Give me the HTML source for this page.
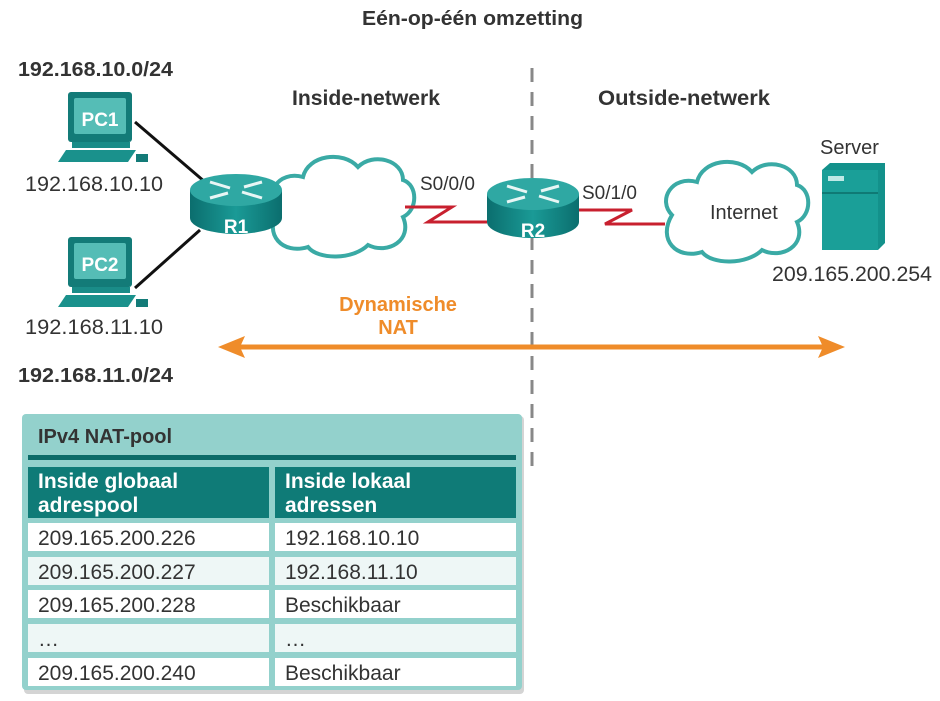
<!DOCTYPE html>
<html><head><meta charset="utf-8"><style>
body{margin:0;background:#fff;}
svg{display:block;font-family:"Liberation Sans",Arial,sans-serif;}
</style></head><body>
<svg width="940" height="701" viewBox="0 0 940 701" xmlns="http://www.w3.org/2000/svg">
<defs>
<linearGradient id="rg" x1="0" y1="0" x2="1" y2="0">
<stop offset="0" stop-color="#0b6e6e"/><stop offset="0.5" stop-color="#1a9a96"/><stop offset="1" stop-color="#0b6e6e"/>
</linearGradient>
<g id="router">
<path d="M-46,0 v28 a46,16 0 0 0 92,0 v-28 z" fill="url(#rg)"/>
<ellipse cx="0" cy="0" rx="46" ry="16" fill="#2fa8a3"/>
<g stroke="#e8f6f5" stroke-width="3" fill="#e8f6f5">
<line x1="-26" y1="-8" x2="-6" y2="-2"/><line x1="26" y1="8" x2="6" y2="2"/>
<line x1="-26" y1="8" x2="-8" y2="3"/><line x1="26" y1="-8" x2="8" y2="-3"/>
</g>
</g>
<g id="pc">
<rect x="14" y="0" width="64" height="50" rx="3" fill="#137b78"/>
<rect x="20" y="6" width="52" height="36" rx="2" fill="#55bdb6"/>
<rect x="18" y="50" width="58" height="6" fill="#1a8c88"/>
<path d="M4,70 L12,58 L82,58 L74,70 z" fill="#1a918c"/>
<rect x="82" y="62" width="12" height="8" fill="#137b78"/>
</g>
<g id="cloud">
<path d="M10,55 C-5,40 10,15 35,22 C40,0 75,-5 90,12 C105,-3 135,5 135,25 C150,30 150,55 135,62 C145,85 120,100 100,90 C85,105 50,105 40,92 C15,100 -5,80 10,55 z" fill="#fff" stroke="#3aaaa5" stroke-width="4"/>
</g>
</defs>

<text x="362" y="25" font-size="20" font-weight="bold" fill="#333" textLength="221" lengthAdjust="spacingAndGlyphs">Eén-op-één omzetting</text>
<text x="18" y="76" font-size="20" font-weight="bold" fill="#333" textLength="155" lengthAdjust="spacingAndGlyphs">192.168.10.0/24</text>
<text x="18" y="382" font-size="20" font-weight="bold" fill="#333" textLength="155" lengthAdjust="spacingAndGlyphs">192.168.11.0/24</text>
<text x="292" y="105" font-size="21" font-weight="bold" fill="#333" textLength="148" lengthAdjust="spacingAndGlyphs">Inside-netwerk</text>
<text x="598" y="105" font-size="21" font-weight="bold" fill="#333" textLength="172" lengthAdjust="spacingAndGlyphs">Outside-netwerk</text>

<line x1="532" y1="68" x2="532" y2="472" stroke="#888" stroke-width="3" stroke-dasharray="14,10"/>

<line x1="135" y1="122" x2="205" y2="182" stroke="#111" stroke-width="3"/>
<line x1="135" y1="288" x2="200" y2="230" stroke="#111" stroke-width="3"/>

<use href="#cloud" x="268" y="155"/>
<use href="#cloud" x="662" y="160"/>
<text x="710" y="219" font-size="20" fill="#333">Internet</text>

<polyline points="405,207 452,207 428,222 487,222" fill="none" stroke="#c8202f" stroke-width="3"/>
<polyline points="578,210 632,210 605,224 665,224" fill="none" stroke="#c8202f" stroke-width="3"/>
<text x="420" y="190" font-size="19" fill="#333">S0/0/0</text>
<text x="582" y="199" font-size="19" fill="#333">S0/1/0</text>

<g transform="translate(236,190)"><use href="#router"/><text x="0" y="43" font-size="19" font-weight="bold" fill="#fff" text-anchor="middle">R1</text></g>
<g transform="translate(533,194)"><use href="#router"/><text x="0" y="43" font-size="19" font-weight="bold" fill="#fff" text-anchor="middle">R2</text></g>

<use href="#pc" x="54" y="92"/>
<text x="100" y="126" font-size="19" font-weight="bold" fill="#fff" text-anchor="middle">PC1</text>
<use href="#pc" x="54" y="237"/>
<text x="100" y="271" font-size="19" font-weight="bold" fill="#fff" text-anchor="middle">PC2</text>
<text x="25" y="191" font-size="21" fill="#333" textLength="138" lengthAdjust="spacingAndGlyphs">192.168.10.10</text>
<text x="25" y="334" font-size="21" fill="#333" textLength="138" lengthAdjust="spacingAndGlyphs">192.168.11.10</text>

<path d="M822,170 L830,163 L885,163 L885,243 L878,250 L822,250 z" fill="#13918b"/>
<rect x="822" y="170" width="56" height="80" fill="#1a9f98"/>
<rect x="822" y="192" width="56" height="2" fill="#0f7a75"/>
<rect x="828" y="176" width="16" height="5" fill="#bfe9e6"/>
<text x="820" y="154" font-size="20" fill="#333">Server</text>
<text x="772" y="281" font-size="21" fill="#333" textLength="160" lengthAdjust="spacingAndGlyphs">209.165.200.254</text>

<text x="398" y="311" font-size="20" font-weight="bold" fill="#ef8c2a" text-anchor="middle">Dynamische</text>
<text x="398" y="334" font-size="20" font-weight="bold" fill="#ef8c2a" text-anchor="middle">NAT</text>
<line x1="232" y1="347" x2="831" y2="347" stroke="#ef8c2a" stroke-width="5"/>
<polygon points="218,347 245,336 240,347 245,358" fill="#ef8c2a"/>
<polygon points="845,347 818,336 823,347 818,358" fill="#ef8c2a"/>

<rect x="24" y="416" width="500" height="278" rx="4" fill="#aaa" opacity="0.5"/>
<rect x="22" y="414" width="500" height="276" rx="4" fill="#93d1cc"/>
<text x="38" y="443" font-size="20" font-weight="bold" fill="#333">IPv4 NAT-pool</text>
<rect x="28" y="455" width="488" height="5" fill="#0b6b68"/>
<rect x="28" y="467" width="241" height="51" fill="#0f7b77"/>
<rect x="275" y="467" width="241" height="51" fill="#0f7b77"/>
<g font-size="21" font-weight="bold" fill="#fff">
<text x="38" y="488">Inside globaal</text><text x="38" y="512">adrespool</text>
<text x="285" y="488">Inside lokaal</text><text x="285" y="512">adressen</text>
</g>
<g fill="#fff">
<rect x="28" y="523" width="241" height="28"/><rect x="275" y="523" width="241" height="28"/>
<rect x="28" y="590" width="241" height="28"/><rect x="275" y="590" width="241" height="28"/>
<rect x="28" y="658" width="241" height="28"/><rect x="275" y="658" width="241" height="28"/>
</g>
<g fill="#eef7f6">
<rect x="28" y="557" width="241" height="28"/><rect x="275" y="557" width="241" height="28"/>
<rect x="28" y="624" width="241" height="28"/><rect x="275" y="624" width="241" height="28"/>
</g>
<g font-size="21" fill="#333">
<text x="38" y="545">209.165.200.226</text><text x="285" y="545">192.168.10.10</text>
<text x="38" y="579">209.165.200.227</text><text x="285" y="579">192.168.11.10</text>
<text x="38" y="612">209.165.200.228</text><text x="285" y="612">Beschikbaar</text>
<text x="38" y="646">…</text><text x="285" y="646">…</text>
<text x="38" y="680">209.165.200.240</text><text x="285" y="680">Beschikbaar</text>
</g>
</svg>
</body></html>
